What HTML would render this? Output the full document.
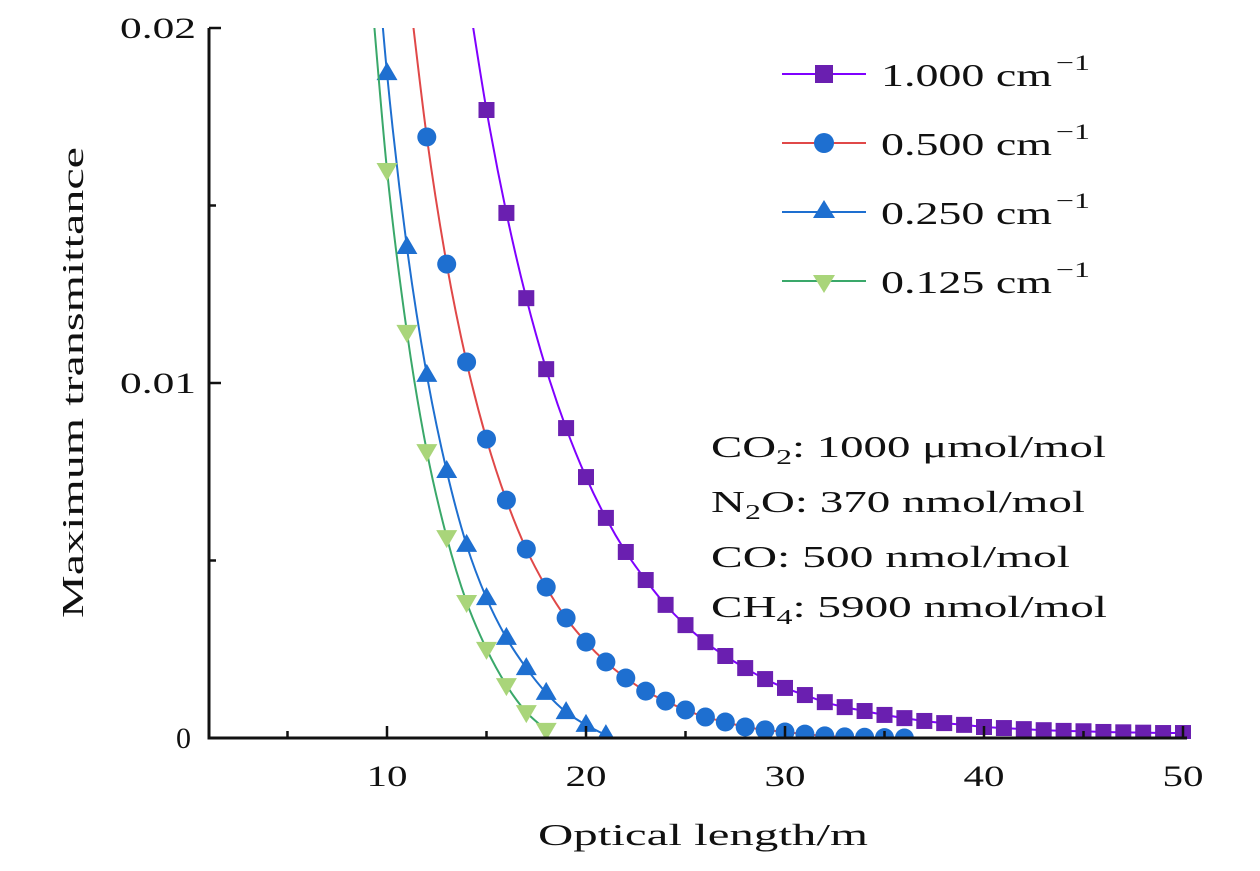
<!DOCTYPE html>
<html><head><meta charset="utf-8"><style>
body{margin:0;background:#fff}
svg text{font-family:"Liberation Serif",serif;fill:#111}
</style></head><body>
<svg id="chart" width="1260" height="866" xmlns="http://www.w3.org/2000/svg">
<defs><clipPath id="plotclip"><rect x="209" y="28" width="990" height="711"/></clipPath></defs>
<g id="plot" clip-path="url(#plotclip)"></g>
<g id="axes"></g>
<g>
 <g><line x1="782" y1="74" x2="866" y2="74" stroke="#7f00ff" stroke-width="2"/><rect x="815" y="65" width="18" height="18" fill="#6a1fb0"/><text x="881" y="86" font-size="32" textLength="171" lengthAdjust="spacingAndGlyphs">1.000 cm</text><text x="1056" y="70" font-size="22" textLength="34" lengthAdjust="spacingAndGlyphs">−1</text></g>
 <g><line x1="782" y1="143" x2="866" y2="143" stroke="#e04848" stroke-width="2"/><circle cx="824" cy="143" r="10" fill="#1e6fd0"/><text x="881" y="155" font-size="32" textLength="171" lengthAdjust="spacingAndGlyphs">0.500 cm</text><text x="1056" y="139" font-size="22" textLength="34" lengthAdjust="spacingAndGlyphs">−1</text></g>
 <g><line x1="782" y1="212" x2="866" y2="212" stroke="#1e6fd0" stroke-width="2"/><path d="M824,200 L835,218 L813,218Z" fill="#1e6fd0"/><text x="881" y="224" font-size="32" textLength="171" lengthAdjust="spacingAndGlyphs">0.250 cm</text><text x="1056" y="208" font-size="22" textLength="34" lengthAdjust="spacingAndGlyphs">−1</text></g>
 <g><line x1="782" y1="281" x2="866" y2="281" stroke="#3aa86a" stroke-width="2"/><path d="M813,275 L835,275 L824,293Z" fill="#a9d57a"/><text x="881" y="293" font-size="32" textLength="171" lengthAdjust="spacingAndGlyphs">0.125 cm</text><text x="1056" y="277" font-size="22" textLength="34" lengthAdjust="spacingAndGlyphs">−1</text></g>
</g>
<g font-size="31">
 <text x="711" y="457" textLength="395" lengthAdjust="spacingAndGlyphs">CO<tspan font-size="21" dy="7">2</tspan><tspan dy="-7">: 1000 μmol/mol</tspan></text>
 <text x="711" y="512" textLength="374" lengthAdjust="spacingAndGlyphs">N<tspan font-size="21" dy="7">2</tspan><tspan dy="-7">O: 370 nmol/mol</tspan></text>
 <text x="711" y="567" textLength="359" lengthAdjust="spacingAndGlyphs">CO: 500 nmol/mol</text>
 <text x="711" y="617" textLength="396" lengthAdjust="spacingAndGlyphs">CH<tspan font-size="21" dy="7">4</tspan><tspan dy="-7">: 5900 nmol/mol</tspan></text>
</g>
<text x="538" y="845" font-size="31" textLength="330" lengthAdjust="spacingAndGlyphs">Optical length/m</text>
<text transform="translate(83,618) rotate(-90)" font-size="31" textLength="471" lengthAdjust="spacingAndGlyphs">Maximum transmittance</text>
</svg>
<script>
const xTicks=[10,20,30,40,50];
const xMinor=[5,15,25,35,45];
const yTicks=[0,0.01,0.02];
const yTickLabels=['0','0.01','0.02'];
const yMinor=[0.005,0.015];
const x1000=[14,15,16,17,18,19,20,21,22,23,24,25,26,27,28,29,30,31,32,33,34,35,36,37,38,39,40,41,42,43,44,45,46,47,48,49,50];
const y1000=[0.0212,0.01769,0.01479,0.01239,0.01039,0.00873,0.00735,0.0062,0.00524,0.00445,0.00375,0.00318,0.0027,0.00231,0.00197,0.00166,0.00141,0.00121,0.00101,0.00087,0.00076,0.00065,0.00056,0.00048,0.00042,0.00037,0.00031,0.00028,0.00025,0.00022,0.0002,0.00019,0.00017,0.00016,0.00015,0.00014,0.00014];
const x0500=[11,12,13,14,15,16,17,18,19,20,21,22,23,24,25,26,27,28,29,30,31,32,33,34,35,36];
const y0500=[0.0216,0.01693,0.01335,0.01059,0.00842,0.0067,0.00532,0.00425,0.00338,0.0027,0.00214,0.00169,0.00132,0.00104,0.00079,0.00059,0.00045,0.00031,0.00023,0.00017,0.00011,0.00006,0.00003,0.00002,0.00001,0];
const x0250=[9,10,11,12,13,14,15,16,17,18,19,20,21];
const y0250=[0.0254,0.01873,0.01383,0.01023,0.00752,0.00544,0.00394,0.00282,0.00197,0.00127,0.00073,0.00037,0.00008];
const x0125=[9,10,11,12,13,14,15,16,17,18];
const y0125=[0.0225,0.016,0.01144,0.00808,0.00566,0.00383,0.00251,0.00149,0.00073,0.00023];
const NS='http://www.w3.org/2000/svg';
const X=v=>188+(v)*19.9;
const Y=v=>738-v*35500;
function mk(tag,attrs,parent){const e=document.createElementNS(NS,tag);for(const k in attrs)e.setAttribute(k,attrs[k]);parent.appendChild(e);return e;}
const plot=document.getElementById('plot'),axes=document.getElementById('axes');
function smooth(xs,ys){const p=xs.map((x,i)=>[X(x),Y(ys[i])]);let d='M'+p[0][0]+','+p[0][1];
 for(let i=0;i<p.length-1;i++){const p0=p[i-1]||p[i],p1=p[i],p2=p[i+1],p3=p[i+2]||p2;
 d+=` C${p1[0]+(p2[0]-p0[0])/6},${p1[1]+(p2[1]-p0[1])/6} ${p2[0]-(p3[0]-p1[0])/6},${p2[1]-(p3[1]-p1[1])/6} ${p2[0]},${p2[1]}`;}return d;}
const series=[[x1000,y1000,'#7f00ff','#6a1fb0','sq','1000'],[x0500,y0500,'#e04848','#1e6fd0','ci','0500'],[x0250,y0250,'#1e6fd0','#1e6fd0','up','0250'],[x0125,y0125,'#3aa86a','#a9d57a','dn','0125']];
series.forEach(s=>{const [xs,ys,lc,mc,shape,nm]=s;
 const l=mk('path',{d:smooth(xs,ys),fill:'none',stroke:lc,'stroke-width':2},plot);
 
 
 xs.forEach((x,i)=>{if(ys[i]>0.0201)return;const cx=X(x),cy=Y(ys[i]);let m;
  if(shape==='sq')m=mk('rect',{x:cx-8,y:cy-8,width:16,height:16,fill:mc},plot);
  else if(shape==='ci')m=mk('circle',{cx:cx,cy:cy,r:9.5,fill:mc},plot);
  else if(shape==='up')m=mk('path',{d:`M${cx},${cy-11}L${cx+10.5},${cy+7}L${cx-10.5},${cy+7}Z`,fill:mc},plot);
  else m=mk('path',{d:`M${cx-10.5},${cy-7}L${cx+10.5},${cy-7}L${cx},${cy+11}Z`,fill:mc},plot);
  
  });});
mk('line',{x1:209,y1:28,x2:209,y2:739.5,stroke:'#111','stroke-width':3},axes);
mk('line',{x1:207.5,y1:738,x2:1187,y2:738,stroke:'#111','stroke-width':3},axes);
xTicks.forEach(v=>{mk('line',{x1:X(v),y1:738,x2:X(v),y2:726,stroke:'#111','stroke-width':2.5},axes);
 const t=mk('text',{x:X(v)-20.5,y:786,'font-size':30,textLength:41,lengthAdjust:'spacingAndGlyphs'},axes);t.textContent=v;
 
 });
xMinor.forEach(v=>mk('line',{x1:X(v),y1:738,x2:X(v),y2:731,stroke:'#111','stroke-width':2.5},axes));
yTicks.forEach((v,i)=>{mk('line',{x1:209,y1:Y(v),x2:221,y2:Y(v),stroke:'#111','stroke-width':2.5},axes);
 const lab=yTickLabels[i];
 const attrs={x:lab.length>1?120:176,y:Y(v)+10,'font-size':30};
 if(lab.length>1){attrs.textLength=76;attrs.lengthAdjust='spacingAndGlyphs';}
 const t=mk('text',attrs,axes);t.textContent=lab;
 
 });
yMinor.forEach(v=>mk('line',{x1:209,y1:Y(v),x2:216,y2:Y(v),stroke:'#111','stroke-width':2.5},axes));
</script>
</body></html>
